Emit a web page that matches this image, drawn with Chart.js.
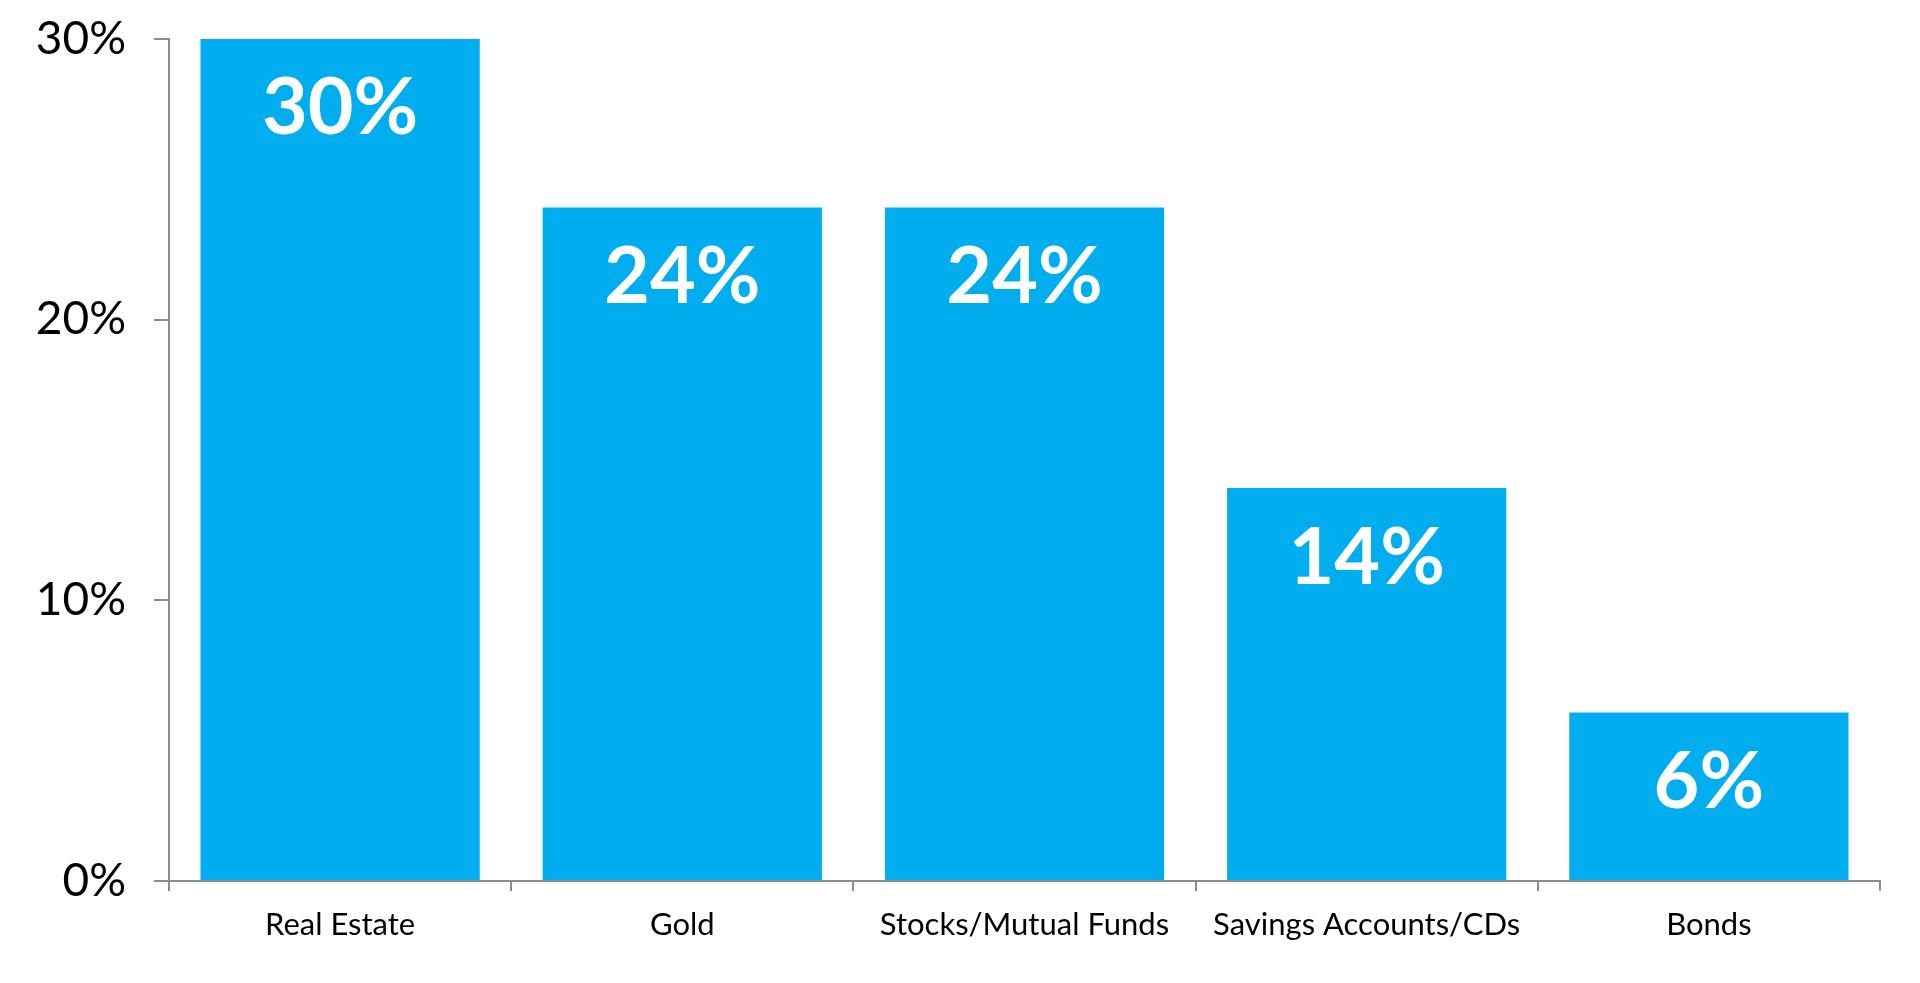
<!DOCTYPE html>
<html>
<head>
<meta charset="utf-8">
<title>Investment preference</title>
<script src="https://cdn.jsdelivr.net/npm/chart.js@4/dist/chart.umd.min.js"></script>
<style>
    html, body { margin: 0; padding: 0; background: #fff; }
    .chart-wrap { width: 1920px; height: 983px; position: relative; }
</style>
</head>
<body>
<div class="chart-wrap"><canvas id="barChart"></canvas></div>
<script>
// ---- data ----
const categories = ['Real Estate', 'Gold', 'Stocks/Mutual Funds', 'Savings Accounts/CDs', 'Bonds'];
const shares     = [30, 24, 24, 14, 6];
const yTicks     = [0, 10, 20, 30];

const FONT   = 'Lato, "Open Sans", sans-serif';
const BLUE   = '#00aeef';
const AXIS   = '#8c8c8c';

// white value labels drawn inside each bar, just below its top
const barValueLabels = {
    id: 'barValueLabels',
    afterDatasetsDraw(chart) {
        const ctx = chart.ctx;
        const meta = chart.getDatasetMeta(0);
        ctx.save();
        ctx.fillStyle = '#ffffff';
        ctx.font = `bold 79px ${FONT}`;
        ctx.textAlign = 'center';
        ctx.textBaseline = 'middle';
        meta.data.forEach((bar, i) => {
            ctx.fillText(shares[i] + '%', bar.x, bar.y + 70);
        });
        ctx.restore();
    }
};

(function () {
    const canvas = document.getElementById('barChart');
    new Chart(canvas.getContext('2d'), {
        type: 'bar',
        data: {
            labels: categories,
            datasets: [{
                data: shares,
                backgroundColor: BLUE,
                borderWidth: 0,
                barPercentage: 0.816,
                categoryPercentage: 1.0,
            }]
        },
        options: {
            responsive: true,
            maintainAspectRatio: false,
            animation: false,
            layout: { padding: { top: 39, right: 40, left: 0, bottom: 0 } },
            plugins: {
                legend: { display: false },
                tooltip: { enabled: false },
            },
            scales: {
                x: {
                    afterFit: s => { s.height = 102; s.paddingLeft = 0; s.paddingRight = 0; },
                    grid: {
                        drawOnChartArea: false,
                        drawTicks: true,
                        tickLength: 10,
                        color: AXIS,
                        lineWidth: 2,
                    },
                    border: { display: true, color: AXIS, width: 2 },
                    ticks: {
                        color: '#000',
                        padding: 15,
                        font: { family: FONT, size: 31 },
                    },
                },
                y: {
                    min: 0,
                    max: 30,
                    afterFit: s => { s.width = 169; s.paddingTop = 0; s.paddingBottom = 0; },
                    afterBuildTicks: s => { s.ticks = yTicks.map(v => ({ value: v })); },
                    grid: {
                        drawOnChartArea: false,
                        drawTicks: true,
                        tickLength: 15,
                        color: AXIS,
                        lineWidth: 2,
                    },
                    border: { display: true, color: AXIS, width: 2 },
                    ticks: {
                        color: '#000',
                        padding: 28,
                        font: { family: FONT, size: 46 },
                        callback: v => `${v}%`,
                    },
                }
            }
        },
        plugins: [barValueLabels]
    });
})();
</script>
</body>
</html>
